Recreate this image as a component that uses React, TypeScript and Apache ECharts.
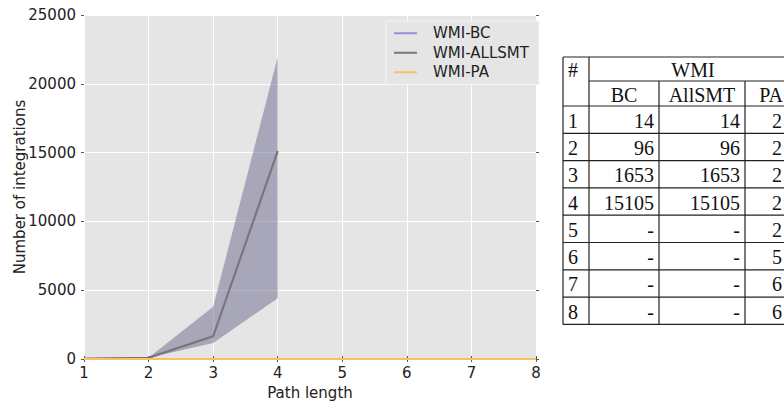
import React, { useEffect, useRef } from "react";
import * as echarts from "echarts";

// ---- chart data ----
const pathLengths = [1, 2, 3, 4, 5, 6, 7, 8];
const bcX = [1, 2, 3, 4];
const bcValues = [14, 96, 1653, 15105];
const allsmtValues = [14, 96, 1653, 15105];
const paValues = [2, 2, 2, 2, 2, 5, 6, 6];
const bandLower = [14, 96, 1160, 4420];
const bandUpper = [14, 96, 3800, 21950];
const yTicks = [0, 5000, 10000, 15000, 20000, 25000];

// ---- table data ----
const tableRows = ["1", "2", "3", "4", "5", "6", "7", "8"];
const tableBC = ["14", "96", "1653", "15105", "-", "-", "-", "-"];
const tableAllSMT = ["14", "96", "1653", "15105", "-", "-", "-", "-"];
const tablePA = ["2", "2", "2", "2", "2", "5", "6", "6"];
const tableHeader = ["#", "WMI", "BC", "AllSMT", "PA"];

const SANS = "DejaVu Sans";
const SERIF = "Liberation Serif";

function buildTable() {
  const colX = [563, 589, 659, 745, 797];
  const top = 57;
  const hy1 = 81;
  const hy2 = 106;
  const rowH = 27.3;
  const bottom = hy2 + rowH * tableRows.length;
  const stroke = { stroke: "#222", lineWidth: 1.2 };
  const els: any[] = [];
  const hline = (x1: number, x2: number, y: number) =>
    els.push({ type: "line", shape: { x1, y1: y, x2, y2: y }, style: stroke, silent: true });
  const vline = (x: number, y1: number, y2: number) =>
    els.push({ type: "line", shape: { x1: x, y1, x2: x, y2 }, style: stroke, silent: true });
  hline(colX[0], colX[4], top);
  hline(colX[1], colX[4], hy1);
  for (let i = 0; i <= tableRows.length; i++) hline(colX[0], colX[4], hy2 + rowH * i);
  vline(colX[0], top, bottom);
  vline(colX[1], top, bottom);
  vline(colX[2], hy1, bottom);
  vline(colX[3], hy1, bottom);
  vline(colX[4], top, bottom);
  const txt = (text: string, x: number, y: number, align: string) =>
    els.push({
      type: "text",
      x,
      y,
      silent: true,
      style: { text, fill: "#111", font: `20px "${SERIF}"`, align, verticalAlign: "middle" },
    });
  txt(tableHeader[0], colX[0] + 5, (top + hy1) / 2 + 1, "left");
  txt(tableHeader[1], (colX[1] + colX[4]) / 2, (top + hy1) / 2 + 1, "center");
  txt(tableHeader[2], (colX[1] + colX[2]) / 2, (hy1 + hy2) / 2 + 1, "center");
  txt(tableHeader[3], (colX[2] + colX[3]) / 2, (hy1 + hy2) / 2 + 1, "center");
  txt(tableHeader[4], (colX[3] + colX[4]) / 2, (hy1 + hy2) / 2 + 1, "center");
  tableRows.forEach((r, i) => {
    const y = hy2 + rowH * (i + 0.5) + 1;
    txt(r, colX[0] + 5, y, "left");
    txt(tableBC[i], colX[2] - 5, y, "right");
    txt(tableAllSMT[i], colX[3] - 5, y, "right");
    txt(tablePA[i], colX[4] - 15, y, "right");
  });
  return els;
}

export default function App() {
  const ref = useRef<HTMLDivElement>(null);
  useEffect(() => {
    if (!ref.current) return;
    const chart = echarts.init(ref.current, undefined, { renderer: "svg" });
    const tick = { show: true, length: 3, lineStyle: { color: "#555", width: 1 } };
    const labelStyle = { fontFamily: SANS, fontSize: 15, color: "#222" };
    chart.setOption({
      animation: false,
      textStyle: { fontFamily: SANS },
      grid: {
        left: 84,
        right: 248,
        top: 15,
        bottom: 46,
        show: true,
        backgroundColor: "#e5e5e5",
        borderWidth: 0,
        containLabel: false,
        outerBoundsMode: "none",
      },
      legend: {
        orient: "vertical",
        left: 386,
        top: 21,
        data: ["WMI-BC", "WMI-ALLSMT", "WMI-PA"],
        icon: "rect",
        itemWidth: 23,
        itemHeight: 2,
        itemGap: 3,
        padding: [4, 10, 4, 8],
        backgroundColor: "#e5e5e5",
        borderColor: "#f4f4f4",
        borderWidth: 1,
        textStyle: { ...labelStyle, lineHeight: 16.5, padding: [0, 0, 0, 11] },
      },
      xAxis: [
        {
          type: "value",
          min: 1,
          max: 8,
          interval: 1,
          name: "Path length",
          nameLocation: "middle",
          nameGap: 26,
          nameMoveOverlap: false,
          nameTextStyle: labelStyle,
          axisLine: { show: false },
          axisTick: tick,
          axisLabel: { ...labelStyle, margin: 6 },
          splitLine: { show: true, lineStyle: { color: "#ffffff", width: 1 } },
        },
        {
          type: "value",
          position: "top",
          min: 1,
          max: 8,
          interval: 1,
          axisLine: { show: false },
          axisTick: tick,
          axisLabel: { show: false },
          splitLine: { show: false },
        },
      ],
      yAxis: [
        {
          type: "value",
          min: yTicks[0],
          max: yTicks[yTicks.length - 1],
          interval: 5000,
          name: "Number of integrations",
          nameLocation: "middle",
          nameGap: 57,
          nameMoveOverlap: false,
          nameTextStyle: labelStyle,
          axisLine: { show: false },
          axisTick: tick,
          axisLabel: { ...labelStyle, margin: 8, formatter: (v: number) => String(v) },
          splitLine: { show: true, lineStyle: { color: "#ffffff", width: 1 } },
        },
        {
          type: "value",
          position: "right",
          min: yTicks[0],
          max: yTicks[yTicks.length - 1],
          interval: 5000,
          axisLine: { show: false },
          axisTick: tick,
          axisLabel: { show: false },
          splitLine: { show: false },
        },
      ],
      series: [
        {
          name: "band",
          type: "custom",
          silent: true,
          z: 1,
          data: bcX.map((x, i) => [x, bandLower[i], bandUpper[i]]),
          renderItem: (params: any, api: any) => {
            if (params.dataIndex !== 0) return null;
            const upper = bcX.map((x, i) => api.coord([x, bandUpper[i]]));
            const lower = bcX.map((x, i) => api.coord([x, bandLower[i]])).reverse();
            return {
              type: "polygon",
              shape: { points: upper.concat(lower) },
              style: { fill: "rgba(107,103,141,0.5)" },
            };
          },
        },
        {
          name: "WMI-BC",
          type: "line",
          symbol: "none",
          color: "#988ED5",
          lineStyle: { color: "#988ED5", width: 2 },
          data: bcX.map((x, i) => [x, bcValues[i]]),
          z: 2,
        },
        {
          name: "WMI-ALLSMT",
          type: "line",
          symbol: "none",
          color: "#777777",
          lineStyle: { color: "#777777", width: 2 },
          data: bcX.map((x, i) => [x, allsmtValues[i]]),
          z: 3,
        },
        {
          name: "WMI-PA",
          type: "line",
          symbol: "none",
          color: "#FBC15E",
          lineStyle: { color: "#FBC15E", width: 2 },
          data: pathLengths.map((x, i) => [x, paValues[i]]),
          z: 4,
        },
      ],
      graphic: buildTable(),
    });
    return () => chart.dispose();
  }, []);
  return <div ref={ref} style={{ width: 784, height: 405, position: "absolute", left: 0, top: 0, background: "#fff" }} />;
}
